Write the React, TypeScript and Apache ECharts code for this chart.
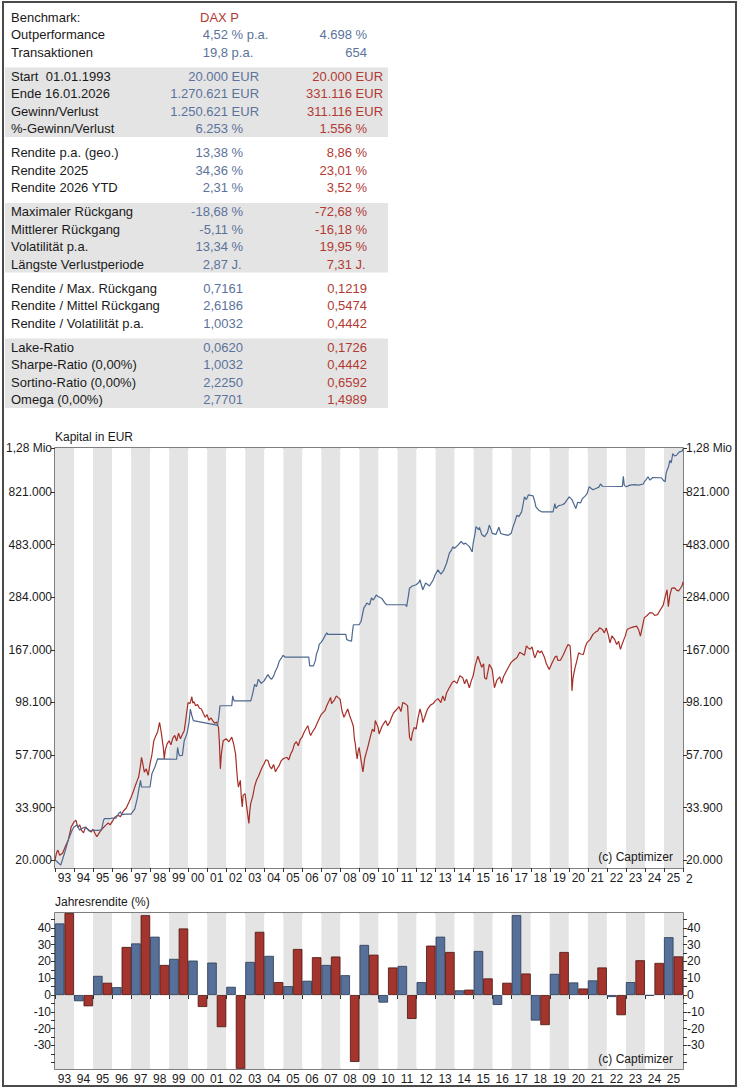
import React, { useEffect, useRef } from 'react';
import * as echarts from 'echarts';

// ---------------- DATA ----------------
type Row = [string, string, string];

const headerRows: Row[] = [
  ['Benchmark:', 'DAX P', ''],
  ['Outperformance', '4,52 % p.a.', '4.698 %'],
  ['Transaktionen', '19,8 p.a.', '654'],
];
const capitalRows: Row[] = [
  ['Start \u00a001.01.1993', '20.000 EUR', '20.000 EUR'],
  ['Ende 16.01.2026', '1.270.621 EUR', '331.116 EUR'],
  ['Gewinn/Verlust', '1.250.621 EUR', '311.116 EUR'],
  ['%-Gewinn/Verlust', '6.253 %', '1.556 %'],
];
const returnRows: Row[] = [
  ['Rendite p.a. (geo.)', '13,38 %', '8,86 %'],
  ['Rendite 2025', '34,36 %', '23,01 %'],
  ['Rendite 2026 YTD', '2,31 %', '3,52 %'],
];
const riskRows: Row[] = [
  ['Maximaler Rückgang', '-18,68 %', '-72,68 %'],
  ['Mittlerer Rückgang', '-5,11 %', '-16,18 %'],
  ['Volatilität p.a.', '13,34 %', '19,95 %'],
  ['Längste Verlustperiode', '2,87 J.', '7,31 J.'],
];
const ratioRows: Row[] = [
  ['Rendite / Max. Rückgang', '0,7161', '0,1219'],
  ['Rendite / Mittel Rückgang', '2,6186', '0,5474'],
  ['Rendite / Volatilität p.a.', '1,0032', '0,4442'],
];
const lakeRows: Row[] = [
  ['Lake-Ratio', '0,0620', '0,1726'],
  ['Sharpe-Ratio (0,00%)', '1,0032', '0,4442'],
  ['Sortino-Ratio (0,00%)', '2,2250', '0,6592'],
  ['Omega (0,00%)', '2,7701', '1,4989'],
];

const yearLabels = ['93','94','95','96','97','98','99','00','01','02','03','04','05','06','07','08','09','10','11','12','13','14','15','16','17','18','19','20','21','22','23','24','25'];

const capTicks = [20000, 33900, 57700, 98100, 167000, 284000, 483000, 821000, 1280000];
const capTickLabels = ['20.000', '33.900', '57.700', '98.100', '167.000', '284.000', '483.000', '821.000', '1,28 Mio'];
const capAxisMin = 18450;
const capAxisMax = 1280000;

const retLabelValues = [-30, -20, -10, 0, 10, 20, 30, 40];
const retTickValues = [-40, -35, -30, -25, -20, -15, -10, -5, 0, 5, 10, 15, 20, 25, 30, 35, 40, 45];
const retAxisMin = -44;
const retAxisMax = 48.8;

// Jahresrendite (%), 1993..2025
const stratReturns = [42.6, -3.7, 11.4, 4.7, 30.7, 34.7, 21.5, 20.5, 19.3, 4.9, 19.7, 23.3, 5.3, 8.5, 17.9, 11.8, 29.8, -4.5, 17.3, 7.7, 34.7, 2.8, 26.2, -5.9, 47.5, -15.2, 12.6, 7.5, 8.7, -1.2, 7.7, -0.4, 34.4];
const daxReturns = [48.8, -6.7, 7.3, 28.6, 47.5, 17.9, 39.6, -7.1, -19.1, -43.9, 37.6, 7.7, 27.4, 22.5, 22.9, -39.8, 24.0, 16.4, -14.2, 29.4, 25.6, 3.2, 9.9, 7.3, 12.8, -17.9, 25.6, 3.9, 16.4, -12.0, 20.7, 19.1, 23.0];

// Kapital in EUR  [year, value]
const stratCapital: [number, number][] = [
  [1993.0,20000],[1993.1,19700],[1993.3,19000],[1993.5,21400],[1993.7,24500],[1993.9,27000],[1994.0,27900],[1994.15,28500],[1994.3,27000],[1994.45,27600],[1994.6,27900],[1994.8,26800],[1995.0,27000],[1995.3,27000],[1995.45,27200],[1995.55,29800],[1995.6,30400],[1995.9,30400],[1996.0,30500],[1996.2,30500],[1996.35,32000],[1996.45,32600],[1996.5,31600],[1996.7,31800],[1997.0,31800],[1997.2,33500],[1997.35,38000],[1997.4,40400],[1997.5,44700],[1997.55,41800],[1998.0,41800],[1998.1,47800],[1998.25,51000],[1998.4,55500],[1999.4,55300],[1999.45,62300],[1999.5,59000],[1999.55,57300],[1999.7,57500],[1999.8,66700],[1999.95,72000],[2000.05,80000],[2000.12,91800],[2000.2,86000],[2000.28,81700],[2001.5,78000],[2001.55,77600],[2001.62,85000],[2001.68,94900],[2002.0,94900],[2002.3,95000],[2002.35,104800],[2002.42,99700],[2003.3,99700],[2003.35,103200],[2003.45,112000],[2003.5,117800],[2003.6,115000],[2003.7,124000],[2003.85,119000],[2004.0,122000],[2004.2,130000],[2004.3,126000],[2004.4,124000],[2004.5,128000],[2004.6,134800],[2004.7,140000],[2004.8,149000],[2004.9,153000],[2005.0,158000],[2005.1,155000],[2006.35,155000],[2006.4,142000],[2006.6,142000],[2006.7,150000],[2006.75,159300],[2006.85,168000],[2006.9,176300],[2007.0,180000],[2007.1,185000],[2007.2,192000],[2007.3,198000],[2007.35,195000],[2008.3,195000],[2008.35,185000],[2008.5,183000],[2008.6,182000],[2008.65,200000],[2008.7,215000],[2009.0,215000],[2009.1,222000],[2009.25,255000],[2009.35,262000],[2009.4,268000],[2009.55,263000],[2009.65,281600],[2009.75,276000],[2009.9,290000],[2010.0,286000],[2010.2,280000],[2010.35,268000],[2010.45,263000],[2011.45,263000],[2011.5,258000],[2011.6,290000],[2011.65,311000],[2011.8,318000],[2012.0,322000],[2012.15,330000],[2012.2,338600],[2012.35,306000],[2012.5,327600],[2012.7,318000],[2012.9,338000],[2013.0,356000],[2013.15,374000],[2013.3,358000],[2013.45,372000],[2013.6,400000],[2013.75,442600],[2013.85,455000],[2013.93,473000],[2014.0,464000],[2014.2,480000],[2014.37,498000],[2014.5,485000],[2014.6,490000],[2014.8,473000],[2014.95,448000],[2015.0,489000],[2015.1,540000],[2015.15,578600],[2015.3,560000],[2015.33,575000],[2015.45,535000],[2015.6,523000],[2015.75,545000],[2015.85,588000],[2015.95,560000],[2016.0,541000],[2016.2,535000],[2016.35,575000],[2016.45,540000],[2016.6,535000],[2016.85,530000],[2017.0,541000],[2017.1,578600],[2017.2,610000],[2017.3,650000],[2017.4,640000],[2017.55,672000],[2017.62,720000],[2017.7,782000],[2017.8,760000],[2017.9,797000],[2018.15,790000],[2018.25,740000],[2018.3,707000],[2018.45,683000],[2018.6,672000],[2019.2,672000],[2019.3,730000],[2019.35,695000],[2019.5,715000],[2019.65,720000],[2019.8,730000],[2019.95,760000],[2020.05,782000],[2020.2,760000],[2020.4,695000],[2020.5,740000],[2020.65,735000],[2020.75,768000],[2020.9,790000],[2021.0,809000],[2021.1,865000],[2021.3,840000],[2021.45,850000],[2021.6,860000],[2021.7,890000],[2021.8,870000],[2022.85,868000],[2022.9,962000],[2022.95,880000],[2023.05,865000],[2023.25,880000],[2023.5,885000],[2023.7,880000],[2023.95,890000],[2024.0,909000],[2024.1,930000],[2024.2,958000],[2024.3,925000],[2024.45,950000],[2024.9,948000],[2025.0,925000],[2025.1,910000],[2025.15,990000],[2025.2,1022000],[2025.28,1060000],[2025.35,1130000],[2025.42,1100000],[2025.5,1208000],[2025.6,1180000],[2025.7,1190000],[2025.85,1230000],[2026.0,1240000],[2026.04,1270621],
];

const daxCapital: [number, number][] = [
  [1993.0,20000],[1993.08,21500],[1993.15,22100],[1993.25,21000],[1993.4,21400],[1993.55,23000],[1993.7,24500],[1993.85,27900],[1994.0,29400],[1994.1,29900],[1994.2,27800],[1994.3,28500],[1994.4,27000],[1994.5,26300],[1994.6,27800],[1994.75,27200],[1994.9,26500],[1995.0,27300],[1995.1,26200],[1995.2,25300],[1995.35,26500],[1995.5,27500],[1995.65,28300],[1995.8,29100],[1995.9,28500],[1996.0,29400],[1996.15,30800],[1996.3,31400],[1996.45,31000],[1996.6,32800],[1996.75,33800],[1996.9,36000],[1997.0,37600],[1997.1,39500],[1997.2,41800],[1997.3,44000],[1997.4,46200],[1997.5,52000],[1997.55,56400],[1997.6,54000],[1997.7,48500],[1997.8,50200],[1997.9,47000],[1998.0,52800],[1998.1,58000],[1998.2,66700],[1998.3,70000],[1998.4,73000],[1998.5,80200],[1998.55,76000],[1998.6,71400],[1998.7,62000],[1998.75,55500],[1998.8,60500],[1998.9,64600],[1999.0,66700],[1999.1,64000],[1999.2,68500],[1999.3,70300],[1999.4,66500],[1999.5,72000],[1999.6,68000],[1999.7,71000],[1999.8,73800],[1999.9,85000],[2000.0,98100],[2000.1,97000],[2000.2,103900],[2000.25,97500],[2000.3,99000],[2000.4,94900],[2000.5,96000],[2000.6,92500],[2000.7,91800],[2000.8,88000],[2000.9,84500],[2001.0,86700],[2001.1,82000],[2001.2,84000],[2001.3,81700],[2001.4,79500],[2001.5,80500],[2001.6,76300],[2001.65,65000],[2001.7,50200],[2001.75,58000],[2001.85,66700],[2002.0,68000],[2002.15,66000],[2002.3,69100],[2002.4,64500],[2002.5,58300],[2002.55,51000],[2002.6,45000],[2002.65,41800],[2002.75,44700],[2002.8,38000],[2002.85,34200],[2002.9,38500],[2003.0,39100],[2003.1,33500],[2003.2,28900],[2003.25,33000],[2003.3,35500],[2003.4,37900],[2003.5,42000],[2003.6,44700],[2003.7,46500],[2003.8,48700],[2003.9,51000],[2004.0,52800],[2004.1,55000],[2004.2,54600],[2004.3,51500],[2004.4,50200],[2004.5,52500],[2004.6,48700],[2004.7,50500],[2004.8,52000],[2004.9,54500],[2005.0,55500],[2005.1,56000],[2005.2,56400],[2005.3,55000],[2005.4,58300],[2005.5,60500],[2005.6,64600],[2005.7,66000],[2005.8,63400],[2005.9,67500],[2006.0,69100],[2006.1,72500],[2006.2,75000],[2006.3,77600],[2006.4,72000],[2006.45,70300],[2006.55,73000],[2006.7,76300],[2006.85,81500],[2007.0,86700],[2007.1,88500],[2007.2,90300],[2007.3,95000],[2007.4,99000],[2007.5,103200],[2007.55,97000],[2007.6,98100],[2007.7,100500],[2007.8,104800],[2007.9,103000],[2008.0,101400],[2008.1,90000],[2008.2,84500],[2008.3,88000],[2008.4,91800],[2008.5,86000],[2008.6,81700],[2008.7,77000],[2008.75,68000],[2008.8,64600],[2008.85,59000],[2008.9,55500],[2008.95,60000],[2009.0,62300],[2009.1,55000],[2009.2,48700],[2009.3,56000],[2009.4,60000],[2009.5,64600],[2009.6,70000],[2009.7,75000],[2009.8,73000],[2009.85,81700],[2010.0,76300],[2010.05,71400],[2010.2,77000],[2010.3,79500],[2010.4,81700],[2010.5,77600],[2010.6,80000],[2010.7,84000],[2010.8,88000],[2010.9,90000],[2011.0,92000],[2011.1,94000],[2011.2,89500],[2011.3,98100],[2011.45,96500],[2011.55,95000],[2011.6,80000],[2011.65,69100],[2011.74,66700],[2011.8,72000],[2011.9,76300],[2012.0,75000],[2012.1,84000],[2012.2,91800],[2012.3,86000],[2012.35,80200],[2012.45,84500],[2012.6,91800],[2012.75,95500],[2012.9,97000],[2013.0,99700],[2013.15,102000],[2013.3,98000],[2013.4,104800],[2013.5,99700],[2013.6,108000],[2013.75,114000],[2013.9,120000],[2014.0,122000],[2014.15,119000],[2014.3,128400],[2014.45,126000],[2014.55,118500],[2014.65,124000],[2014.8,113800],[2014.9,122000],[2015.0,128400],[2015.1,142000],[2015.25,156600],[2015.35,148000],[2015.45,140000],[2015.55,145000],[2015.6,126000],[2015.7,124000],[2015.85,144200],[2016.0,137000],[2016.12,113800],[2016.25,123000],[2016.4,127000],[2016.5,119000],[2016.6,127500],[2016.75,134800],[2016.9,142000],[2017.0,147000],[2017.15,151000],[2017.3,154000],[2017.45,163000],[2017.6,160000],[2017.7,158000],[2017.8,173600],[2017.9,170000],[2018.0,168000],[2018.1,172000],[2018.2,158000],[2018.25,154000],[2018.4,166000],[2018.5,162000],[2018.6,165000],[2018.75,155000],[2018.85,145000],[2019.0,137000],[2019.15,146000],[2019.3,155000],[2019.4,156600],[2019.45,150000],[2019.6,150500],[2019.75,159300],[2019.9,170000],[2020.0,176300],[2020.1,173600],[2020.15,150000],[2020.2,110300],[2020.25,125000],[2020.35,138000],[2020.45,149000],[2020.55,162000],[2020.65,160000],[2020.8,159300],[2020.9,172000],[2021.0,180000],[2021.15,185000],[2021.3,195000],[2021.45,200000],[2021.55,202000],[2021.65,208400],[2021.8,205000],[2021.9,198000],[2022.0,208000],[2022.1,195000],[2022.2,179000],[2022.3,192000],[2022.45,185000],[2022.55,176000],[2022.65,182000],[2022.75,167600],[2022.85,178000],[2023.0,191600],[2023.1,205000],[2023.25,208000],[2023.4,210000],[2023.6,212000],[2023.7,205000],[2023.8,191600],[2023.9,210000],[2024.0,230400],[2024.15,236000],[2024.3,243000],[2024.45,242000],[2024.55,236000],[2024.7,238000],[2024.85,250000],[2025.0,262000],[2025.1,285000],[2025.2,306000],[2025.27,258000],[2025.35,290000],[2025.45,311000],[2025.6,312000],[2025.7,305000],[2025.8,302000],[2025.9,310000],[2026.0,320000],[2026.04,331116],
];

// ---------------- STYLE / LAYOUT ----------------
const FONT = "'Liberation Sans', Arial, sans-serif";
const BLUE_TXT = '#5b739b';
const RED_TXT = '#b23a33';
const LABEL_TXT = '#1a1a1a';
const BAND = '#e4e4e4';
const BLUE_LINE = '#4d6890';
const RED_LINE = '#a52f28';

function measure(text: string, size: number): number {
  const c = document.createElement('canvas').getContext('2d');
  if (!c) return text.length * size * 0.5;
  c.font = `${size}px 'Liberation Sans', Arial, sans-serif`;
  return c.measureText(text).width;
}

function valueText(value: string, numRight: number, y: number, color: string): any {
  const sp = value.indexOf(' ');
  let right: number;
  if (sp < 0) right = numRight + 15;
  else right = numRight + measure(value.slice(sp), 13);
  return {
    type: 'text', x: right, y, z: 10,
    style: { text: value, fill: color, font: `13px ${FONT}`, align: 'right', verticalAlign: 'middle' },
  };
}

function buildTable(): any[] {
  const els: any[] = [];
  const groups: { rows: Row[]; band: boolean; header?: boolean }[] = [
    { rows: headerRows, band: false, header: true },
    { rows: capitalRows, band: true },
    { rows: returnRows, band: false },
    { rows: riskRows, band: true },
    { rows: ratioRows, band: false },
    { rows: lakeRows, band: true },
  ];
  const step = 17.5;
  const gap = 24;
  let y = 17;
  groups.forEach((g, gi) => {
    if (gi > 0) y += gap - step;
    const first = y;
    g.rows.forEach((r, ri) => {
      els.push({
        type: 'text', x: 11, y, z: 10,
        style: { text: r[0], fill: LABEL_TXT, font: `13px ${FONT}`, align: 'left', verticalAlign: 'middle' },
      });
      if (g.header && ri === 0) {
        els.push({
          type: 'text', x: 200, y, z: 10,
          style: { text: r[1], fill: RED_TXT, font: `13px ${FONT}`, align: 'left', verticalAlign: 'middle' },
        });
      } else {
        els.push(valueText(r[1], 228, y, BLUE_TXT));
        els.push(valueText(r[2], 352, y, g.header ? BLUE_TXT : RED_TXT));
      }
      y += step;
    });
    const last = y - step;
    if (g.band) {
      els.push({
        type: 'rect', z: 1,
        shape: { x: 5, y: first - 8.5, width: 383, height: last - first + 17 },
        style: { fill: BAND },
      });
    }
  });
  return els;
}

function capLabel(v: number): string {
  for (let i = 0; i < capTicks.length; i++) {
    if (Math.abs(Math.log10(capTicks[i]) - v) < 1e-6) return capTickLabels[i];
  }
  return '';
}

function buildOption(): any {
  const capLog = capTicks.map((v) => Math.log10(v));
  const axisText = { fontSize: 12, color: LABEL_TXT, fontFamily: FONT };
  const catAxis = (gridIndex: number) => ({
    type: 'category',
    gridIndex,
    data: yearLabels,
    boundaryGap: true,
    axisLine: { show: false },
    axisTick: { show: true, interval: 0, length: 4, lineStyle: { color: '#333' } },
    axisLabel: { ...axisText, interval: 0, margin: 4 },
    splitLine: { show: false },
    splitArea: { show: true, interval: 0, areaStyle: { color: [BAND, '#ffffff'] } },
  });
  const capY = (position: string) => ({
    type: 'value',
    gridIndex: 0,
    position,
    min: Math.log10(capAxisMin),
    max: Math.log10(capAxisMax),
    axisLine: { show: false },
    axisTick: { show: true, customValues: capLog, length: 4, lineStyle: { color: '#333' } },
    axisLabel: { ...axisText, customValues: capLog, formatter: (v: number) => capLabel(v), margin: 3 },
    splitLine: { show: false },
  });
  const retY = (position: string) => ({
    type: 'value',
    gridIndex: 1,
    position,
    min: retAxisMin,
    max: retAxisMax,
    axisLine: { show: false },
    axisTick: { show: true, customValues: retTickValues, length: 4, lineStyle: { color: '#333' } },
    axisLabel: { ...axisText, customValues: retLabelValues, margin: 4 },
    splitLine: { show: false },
  });

  const graphics: any[] = [
    ...buildTable(),
    {
      type: 'rect', z: 50,
      shape: { x: 3, y: 2, width: 733, height: 1084 },
      style: { fill: 'none', stroke: '#4a4a4a', lineWidth: 2 },
    },
    { type: 'text', x: 55, y: 437, z: 10, style: { text: 'Kapital in EUR', fill: LABEL_TXT, font: `12px ${FONT}`, verticalAlign: 'middle' } },
    { type: 'text', x: 55, y: 902, z: 10, style: { text: 'Jahresrendite (%)', fill: LABEL_TXT, font: `12px ${FONT}`, verticalAlign: 'middle' } },
    { type: 'text', x: 673, y: 857, z: 100, style: { text: '(c) Captimizer', fill: LABEL_TXT, font: `12px ${FONT}`, align: 'right', verticalAlign: 'middle' } },
    { type: 'text', x: 673, y: 1059, z: 100, style: { text: '(c) Captimizer', fill: LABEL_TXT, font: `12px ${FONT}`, align: 'right', verticalAlign: 'middle' } },
    { type: 'text', x: 686, y: 879, z: 10, style: { text: '2', fill: LABEL_TXT, font: `12px ${FONT}`, align: 'left', verticalAlign: 'middle' } },
  ];

  return {
    animation: false,
    backgroundColor: '#ffffff',
    textStyle: { fontFamily: FONT },
    grid: [
      { left: 55, top: 448, width: 628, height: 420, show: true, borderColor: '#555', borderWidth: 1.5, backgroundColor: 'transparent', containLabel: false },
      { left: 55, top: 913, width: 628, height: 156, show: true, borderColor: '#555', borderWidth: 1.5, backgroundColor: 'transparent', containLabel: false },
    ],
    xAxis: [
      catAxis(0),
      { type: 'value', gridIndex: 0, min: 1993, max: 2026.04, show: false, splitLine: { show: false } },
      catAxis(1),
    ],
    yAxis: [capY('left'), capY('right'), retY('left'), retY('right')],
    series: [
      {
        type: 'line', xAxisIndex: 1, yAxisIndex: 0, showSymbol: false, symbol: 'none', z: 3,
        data: stratCapital.map(([t, v]) => [t, Math.log10(v)]),
        lineStyle: { color: BLUE_LINE, width: 1.2 },
      },
      {
        type: 'line', xAxisIndex: 1, yAxisIndex: 0, showSymbol: false, symbol: 'none', z: 2,
        data: daxCapital.map(([t, v]) => [t, Math.log10(v)]),
        lineStyle: { color: RED_LINE, width: 1.2 },
      },
      {
        type: 'bar', xAxisIndex: 2, yAxisIndex: 2, data: stratReturns,
        barGap: '0%', barCategoryGap: '0%',
        itemStyle: { color: '#56709a', borderColor: '#2a3850', borderWidth: 0.8 },
      },
      {
        type: 'bar', xAxisIndex: 2, yAxisIndex: 2, data: daxReturns,
        barGap: '0%', barCategoryGap: '0%',
        itemStyle: { color: '#a3352e', borderColor: '#4a1410', borderWidth: 0.8 },
      },
    ],
    graphic: graphics,
  };
}

export default function App() {
  const ref = useRef<HTMLDivElement>(null);
  useEffect(() => {
    if (!ref.current) return;
    const chart = echarts.init(ref.current, undefined, { renderer: 'svg', width: 739, height: 1090 });
    chart.setOption(buildOption());
    return () => chart.dispose();
  }, []);
  return (
    <div
      ref={ref}
      style={{ position: 'absolute', left: 0, top: 0, width: 739, height: 1090, background: '#ffffff' }}
    />
  );
}
